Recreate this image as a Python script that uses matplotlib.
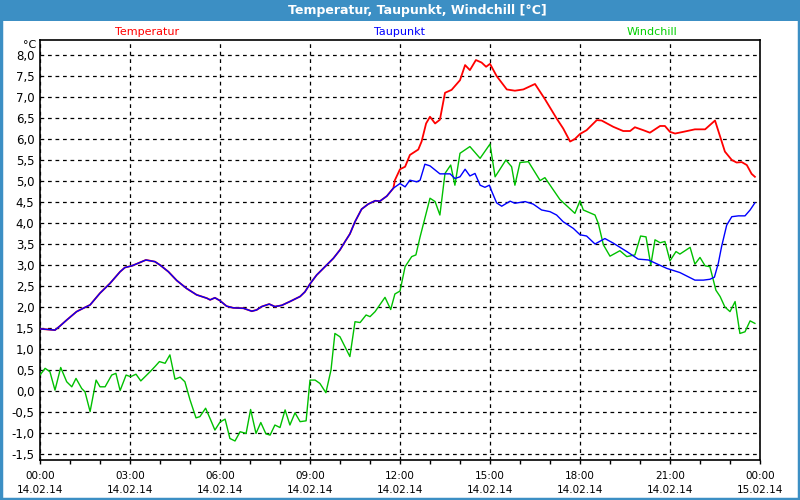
import matplotlib
matplotlib.use("Agg")
import matplotlib.pyplot as plt
from matplotlib.patches import Rectangle
from matplotlib.ticker import FixedLocator, MultipleLocator, FuncFormatter

# --- data (hours since 14.02.14 00:00, degrees C) ---
# Temperatur and Taupunkt run together until about 11:40
common_h = [0.0, 0.5, 0.67, 0.89, 1.22, 1.44, 1.67, 2.0, 2.33, 2.67, 2.83, 3.06,
            3.33, 3.53, 3.83, 4.0, 4.28, 4.56, 4.89, 5.22, 5.56, 5.67, 5.83, 6.0,
            6.22, 6.44, 6.78, 7.06, 7.22, 7.39, 7.64, 7.83, 8.06, 8.33, 8.67, 8.83,
            9.0, 9.22, 9.5, 9.78, 10.0, 10.17, 10.33, 10.5, 10.72, 10.94, 11.17,
            11.33, 11.56, 11.78]
common_v = [1.48, 1.45, 1.55, 1.69, 1.89, 1.97, 2.05, 2.33, 2.56, 2.84, 2.94, 2.98,
            3.06, 3.12, 3.08, 3.0, 2.84, 2.63, 2.44, 2.29, 2.21, 2.17, 2.22, 2.15,
            2.02, 1.98, 1.97, 1.90, 1.93, 2.01, 2.07, 2.01, 2.04, 2.13, 2.25, 2.36,
            2.55, 2.76, 2.96, 3.16, 3.36, 3.56, 3.74, 4.03, 4.33, 4.45, 4.53,
            4.52, 4.64, 4.83]

temp_h = common_h + [11.83, 12.0, 12.17, 12.33, 12.61, 12.72, 12.87, 13.0, 13.17, 13.33,
                     13.5, 13.72, 14.0, 14.17, 14.33, 14.53, 14.72, 14.87, 15.0, 15.22,
                     15.56, 15.83, 16.11, 16.5, 16.83, 17.22, 17.44, 17.67, 17.83, 18.0,
                     18.22, 18.56, 18.72, 19.11, 19.44, 19.67, 19.83, 20.11, 20.33, 20.67,
                     20.83, 21.0, 21.17, 21.44, 21.83, 22.17, 22.5, 22.67, 22.83, 23.06,
                     23.22, 23.39, 23.56, 23.72, 23.83]
temp_v = common_v + [5.02, 5.28, 5.34, 5.62, 5.75, 5.94, 6.37, 6.53, 6.37, 6.46,
                     7.10, 7.17, 7.40, 7.76, 7.64, 7.88, 7.82, 7.72, 7.79, 7.50,
                     7.18, 7.15, 7.18, 7.31, 6.95, 6.49, 6.25, 5.94, 6.0, 6.12,
                     6.21, 6.45, 6.44, 6.29, 6.19, 6.19, 6.28, 6.21, 6.15, 6.31,
                     6.31, 6.17, 6.13, 6.17, 6.23, 6.23, 6.44, 6.06, 5.70, 5.50,
                     5.44, 5.45, 5.38, 5.17, 5.10]

dew_h = common_h + [12.0, 12.17, 12.33, 12.56, 12.67, 12.83, 13.0, 13.33, 13.67, 13.83,
                    14.0, 14.17, 14.33, 14.5, 14.67, 14.83, 14.98, 15.06, 15.22, 15.39,
                    15.67, 15.83, 16.17, 16.44, 16.72, 17.0, 17.22, 17.44, 17.78, 18.0,
                    18.22, 18.5, 18.83, 19.11, 19.56, 19.94, 20.28, 20.89, 21.33, 21.83,
                    22.11, 22.33, 22.48, 22.61, 22.72, 22.89, 23.06, 23.28, 23.5, 23.67,
                    23.83]
dew_v = common_v + [4.94, 4.86, 5.02, 4.98, 5.02, 5.40, 5.36, 5.17, 5.17, 5.06,
                    5.10, 5.28, 5.12, 5.18, 4.90, 4.85, 4.90, 4.75, 4.48, 4.40,
                    4.52, 4.47, 4.51, 4.45, 4.31, 4.27, 4.19, 4.03, 3.87, 3.72,
                    3.69, 3.50, 3.63, 3.52, 3.32, 3.14, 3.12, 2.92, 2.82, 2.64,
                    2.64, 2.66, 2.71, 3.04, 3.44, 3.95, 4.15, 4.17, 4.17, 4.31,
                    4.48]

wind_h = [0.0, 0.17, 0.33, 0.5, 0.69, 0.89, 1.06, 1.2, 1.39, 1.5, 1.67, 1.87, 2.0,
          2.17, 2.39, 2.53, 2.67, 2.87, 3.02, 3.2, 3.36, 3.67, 3.83, 3.98, 4.17, 4.33,
          4.5, 4.67, 4.83, 5.0, 5.2, 5.33, 5.52, 5.69, 5.83, 6.0, 6.17, 6.33, 6.5,
          6.67, 6.87, 7.02, 7.2, 7.36, 7.53, 7.67, 7.83, 8.0, 8.17, 8.33, 8.5, 8.67,
          8.87, 9.0, 9.17, 9.33, 9.53, 9.7, 9.83, 10.0, 10.33, 10.5, 10.67, 10.87,
          11.0, 11.17, 11.5, 11.69, 11.83, 12.0, 12.17, 12.39, 12.53, 12.67, 13.0,
          13.17, 13.33, 13.5, 13.69, 13.83, 14.0, 14.33, 14.67, 15.0, 15.17, 15.53,
          15.72, 15.83, 16.0, 16.28, 16.67, 16.83, 17.33, 17.83, 18.0, 18.11, 18.5,
          18.61, 18.78, 19.0, 19.33, 19.56, 19.83, 20.02, 20.2, 20.36, 20.5, 20.67,
          20.83, 21.0, 21.2, 21.33, 21.67, 21.83, 22.0, 22.17, 22.33, 22.53, 22.67,
          22.83, 23.0, 23.17, 23.33, 23.5, 23.67, 23.83]
wind_v = [0.38, 0.54, 0.46, 0.02, 0.56, 0.22, 0.10, 0.30, 0.06, -0.02, -0.49, 0.26, 0.10,
          0.10, 0.38, 0.42, 0.01, 0.38, 0.34, 0.40, 0.24, 0.46, 0.58, 0.70, 0.66, 0.86,
          0.28, 0.33, 0.22, -0.21, -0.64, -0.61, -0.41, -0.69, -0.93, -0.74, -0.67, -1.13, -1.19,
          -0.97, -1.01, -0.44, -1.01, -0.75, -1.02, -1.05, -0.81, -0.87, -0.45, -0.81, -0.52, -0.73,
          -0.71, 0.26, 0.26, 0.18, -0.04, 0.50, 1.37, 1.29, 0.82, 1.65, 1.63, 1.81,
          1.77, 1.89, 2.23, 1.94, 2.31, 2.38, 2.96, 3.20, 3.24, 3.67, 4.59,
          4.51, 4.19, 5.18, 5.38, 4.90, 5.66, 5.82, 5.54, 5.88, 5.10, 5.50,
          5.34, 4.90, 5.44, 5.46, 5.01, 5.08, 4.56, 4.23, 4.53, 4.31, 4.19,
          3.99, 3.48, 3.21, 3.34, 3.20, 3.24, 3.69, 3.67, 3.00, 3.60, 3.53,
          3.56, 3.10, 3.32, 3.26, 3.42, 3.02, 3.18, 2.98, 2.96, 2.40, 2.25,
          2.00, 1.89, 2.13, 1.37, 1.41, 1.67, 1.61]

tick_hours = [0, 3, 6, 9, 12, 15, 18, 21, 24]
tick_labels = ["00:00\n14.02.14", "03:00\n14.02.14", "06:00\n14.02.14",
               "09:00\n14.02.14", "12:00\n14.02.14", "15:00\n14.02.14",
               "18:00\n14.02.14", "21:00\n14.02.14", "00:00\n15.02.14"]

title = "Temperatur, Taupunkt, Windchill [°C]"
names = ["Temperatur", "Taupunkt", "Windchill"]

frame_blue = "#3c8fc4"

fig = plt.figure(figsize=(8, 5), dpi=100)
fig.patch.set_facecolor("white")

# title bar + window border
fig.add_artist(Rectangle((0, 1 - 21 / 500), 1, 21 / 500, transform=fig.transFigure,
                         facecolor=frame_blue, edgecolor="none", zorder=0))
fig.add_artist(Rectangle((0.001, 0.002), 0.998, 0.996, transform=fig.transFigure,
                         facecolor="none", edgecolor=frame_blue, linewidth=2.5, zorder=5))
fig.text(417 / 800, 1 - 10.5 / 500, title, color="white", fontsize=9, fontweight="bold",
         ha="center", va="center")

ax = fig.add_axes([40 / 800, 40 / 500, 720 / 800, 420 / 500])
ax.plot(temp_h, temp_v, color="#ff0000", lw=1.3, zorder=3)
ax.plot(dew_h, dew_v, color="#0000ff", lw=1.0, zorder=4)
ax.plot(wind_h, wind_v, color="#00c000", lw=1.0, zorder=3)

ax.set_xlim(0, 24)
ax.set_ylim(-1.5 - 6 / 42, 8.0 + 15 / 42)

ax.xaxis.set_major_locator(FixedLocator(tick_hours))
ax.set_xticklabels(tick_labels, fontsize=7.5, linespacing=1.45)
ax.xaxis.set_minor_locator(MultipleLocator(1))
ax.yaxis.set_major_locator(MultipleLocator(0.5))
ax.yaxis.set_major_formatter(FuncFormatter(lambda v, p: f"{v:.1f}".replace(".", ",")))

ax.tick_params(axis="x", which="both", direction="out", length=3, width=1, pad=5,
               colors="black")
ax.tick_params(axis="y", length=0, pad=4, labelsize=8.5)
ax.grid(True, which="major", color="black", linestyle=(0, (3, 3)), linewidth=0.9)
for s in ax.spines.values():
    s.set_linewidth(1.2)

fig.text(36 / 800, 1 - 45 / 500, "°C", fontsize=8, ha="right", va="center")
for name, col, xc in zip(names, ["#ff0000", "#0000ff", "#00d000"], [147, 399, 652]):
    fig.text(xc / 800, 1 - 32 / 500, name, color=col, fontsize=8, ha="center", va="center")

fig.savefig("out.png", dpi=100, facecolor="white")
